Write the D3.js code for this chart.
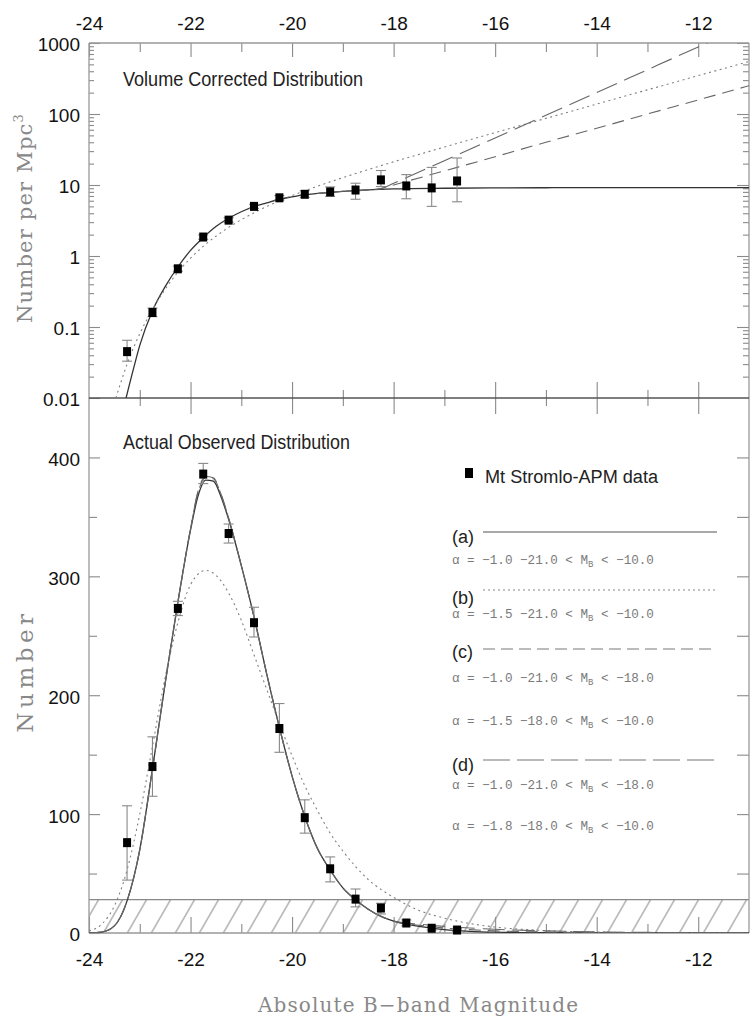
<!DOCTYPE html>
<html><head><meta charset="utf-8">
<script src="https://cdn.jsdelivr.net/npm/d3@7"></script>
<style>body{margin:0;background:#fff}svg{display:block}</style>
</head><body>
<svg id="chart" width="754" height="1017"></svg>
<script>
// ---------- data ----------
const magnitudes   = [-23.25,-22.75,-22.25,-21.75,-21.25,-20.75,-20.25,-19.75,-19.25,-18.75,-18.25,-17.75,-17.25,-16.75];
const densityValues= [0.045,0.16,0.66,1.85,3.2,5.0,6.6,7.4,8.0,8.5,11.8,9.7,9.1,11.4];
const densityLow   = [0.033,0.14,0.61,1.72,3.0,4.7,6.1,6.7,6.9,6.3,9.5,6.4,5.0,5.8];
const densityHigh  = [0.065,0.185,0.72,1.98,3.45,5.35,7.1,8.3,9.4,10.6,16.0,14.0,17.7,24.0];
const countValues  = [76,140,273,386,336,261,172,97,54,28.5,21,8.4,4,2.5];
const countLow     = [44.5,115,267,378,328,249,152,84,43,22,16,6,2.5,1.2];
const countHigh    = [107,165,279,395,344,274,193,112,64,37,25,11,5.5,3.8];

// fitted curves, volume corrected (per Mpc^3)
const fitTopMagA = [-23.27,-23.1,-23,-22.75,-22.5,-22.25,-22,-21.75,-21.5,-21.25,-21,-20.75,-20.5,-20.25,-20,-19.75,-19.5,-19,-18.5,-18,-17,-16,-15,-13,-11];
const fitTopA    = [0.01,0.03,0.055,0.17,0.37,0.7,1.2,1.82,2.6,3.4,4.2,4.95,5.6,6.3,6.8,7.3,7.6,8.15,8.55,8.8,9.0,9.1,9.15,9.2,9.2];
const fitTopMagB = [-23.47,-23.25,-23,-22.75,-22.5,-22.25,-22,-21.75,-21.5,-21.25,-21,-20.75,-20.5,-20.25,-20,-19.5,-19,-18.5,-18,-17,-16,-15,-14,-13,-12,-11];
const fitTopB    = [0.01,0.03,0.08,0.177,0.34,0.59,0.93,1.37,1.9,2.53,3.25,4.06,4.97,5.97,7.07,9.6,12.7,16.5,21.2,34.2,54.6,86.8,138,219,347,549];
const fitTopMagC = [-19.5,-19,-18.5,-18.25,-18,-17,-16,-15,-14,-13,-12,-11];
const fitTopC    = [7.6,8.15,8.55,8.9,10.0,15.8,25,40,63,100,158,250];
const fitTopMagD = [-19.5,-19,-18.5,-18.25,-18,-17,-16,-15,-14,-13,-12,-11.5];
const fitTopD    = [7.6,8.15,8.55,8.9,10.6,22,46,96,200,420,880,1270];

// fitted curves, observed counts
const fitBotMag  = [-24,-23.75,-23.5,-23.25,-23,-22.75,-22.5,-22.25,-22,-21.85,-21.7,-21.55,-21.4,-21.25,-21,-20.75,-20.5,-20.25,-20,-19.75,-19.5,-19.25,-19,-18.75,-18.5,-18.25,-18,-17.5,-17,-16.5,-16,-15,-14,-13,-12,-11];
const fitBotA    = [0,0.8,6,27,70,138,210,278,339,368,381,380,367,348,309,266,218,173,132,98,71,53,38,28,20,14,10,5.5,2.8,1.4,0.7,0.2,0.05,0.02,0.01,0];
const fitBotC    = [0,0.8,6,27,70,138,210,278,340,371,383,382,369,349,309,266,218,173,132,98,71,53,38,28,20,14,10,6.5,4.2,2.8,1.8,0.8,0.3,0.13,0.05,0.02];
const fitBotD    = [0,0.8,6,27,70,138,210,278,340,372,384,383,369,349,309,266,218,173,132,98,71,53,38,28,20,14,10,7.5,5.6,4.2,3.1,1.8,0.95,0.5,0.25,0.12];
const fitBotMagB = [-24,-23.75,-23.5,-23.25,-23,-22.75,-22.5,-22.25,-22,-21.7,-21.5,-21.25,-21,-20.75,-20.5,-20.25,-20,-19.75,-19.5,-19.25,-19,-18.5,-18,-17.5,-17,-16.5,-16,-15,-14,-13,-12,-11];
const fitBotB    = [1.7,7.4,22.8,53,100,157,215,261,293,305,301,286,263,234,205,176,149,124,103,84,69,45,30,19,12.5,8,5,2,0.8,0.3,0.1,0.04];

const hatchLevel = 28;

const xTickMajor = [-24,-22,-20,-18,-16,-14,-12];
const xTickMinor = [-23,-21,-19,-17,-15,-13];
const logTicks   = [0.01,0.1,1,10,100,1000];
const logLabels  = ["0.01","0.1","1","10","100","1000"];
const countTicks = [0,100,200,300,400];
const countMinor = [50,150,250,350];

const legendKeys = ["(a)","(b)","(c)","(d)"];
const legendFormulas = [
  [["−1.0","−21.0","−10.0"]],
  [["−1.5","−21.0","−10.0"]],
  [["−1.0","−21.0","−18.0"],["−1.5","−18.0","−10.0"]],
  [["−1.0","−21.0","−18.0"],["−1.8","−18.0","−10.0"]]
];

// ---------- layout ----------
const L=89, R=749, T=43, MID=398, B=933;
const svg = d3.select("#chart");
const x = d3.scaleLinear().domain([-24,-11]).range([L,R]);
const yTop = d3.scaleLog().domain([0.01,1000]).range([MID,T]);
const yBot = d3.scaleLinear().domain([0,450]).range([B,MID]);
const SANS = "'Liberation Sans', Arial, sans-serif";
const SERIF = "'DejaVu Serif', serif";
const MONO = "'Liberation Mono', monospace";

const defs = svg.append("defs");
defs.append("clipPath").attr("id","clipTop").append("rect").attr("x",L).attr("y",T).attr("width",R-L).attr("height",MID-T);
defs.append("clipPath").attr("id","clipBot").append("rect").attr("x",L).attr("y",MID).attr("width",R-L).attr("height",B-MID);
const pat = defs.append("pattern").attr("id","hatch").attr("patternUnits","userSpaceOnUse")
  .attr("width",24).attr("height",40).attr("patternTransform","translate(6,0) skewX(-30)");
pat.append("line").attr("x1",12).attr("x2",12).attr("y1",-2).attr("y2",42).attr("stroke","#777").attr("stroke-width",1);

// hatch region
svg.append("rect").attr("x",L).attr("y",yBot(hatchLevel)).attr("width",R-L).attr("height",B-yBot(hatchLevel))
  .attr("fill","url(#hatch)");
svg.append("line").attr("x1",L).attr("x2",R).attr("y1",yBot(hatchLevel)).attr("y2",yBot(hatchLevel))
  .attr("stroke","#888").attr("stroke-width",1.2);

function styleAxis(g){
  g.select(".domain").remove();
  g.selectAll(".tick line").attr("stroke","#8a8a8a").attr("stroke-width",1.1);
  g.selectAll(".tick text").attr("font-family",SANS).attr("font-size",19).attr("fill","#111");
}
const noLab = () => "";

// top panel axes
svg.append("g").attr("transform",`translate(${L},0)`)
  .call(d3.axisLeft(yTop).tickValues(logTicks).tickFormat((d,i)=>logLabels[i]).tickSizeInner(-11).tickSizeOuter(0).tickPadding(9))
  .call(styleAxis).call(g=>g.selectAll(".tick text").attr("dy","0.42em"));
const minorLog = logTicks.slice(0,-1).flatMap(d=>d3.range(2,10).map(k=>k*d));
svg.append("g").attr("transform",`translate(${L},0)`)
  .call(d3.axisLeft(yTop).tickValues(minorLog).tickFormat(noLab).tickSizeInner(-5).tickSizeOuter(0)).call(styleAxis);
svg.append("g").attr("transform",`translate(${R},0)`)
  .call(d3.axisRight(yTop).tickValues(logTicks.slice(1)).tickFormat(noLab).tickSizeInner(-12).tickSizeOuter(0)).call(styleAxis);
svg.append("g").attr("transform",`translate(${R},0)`)
  .call(d3.axisRight(yTop).tickValues(minorLog).tickFormat(noLab).tickSizeInner(-6).tickSizeOuter(0)).call(styleAxis);
svg.append("g").attr("transform",`translate(0,${T})`)
  .call(d3.axisTop(x).tickValues(xTickMajor).tickFormat(d=>String(d)).tickSizeInner(-14).tickSizeOuter(0).tickPadding(13)).call(styleAxis);
svg.append("g").attr("transform",`translate(0,${T})`)
  .call(d3.axisTop(x).tickValues(xTickMinor).tickFormat(noLab).tickSizeInner(-9).tickSizeOuter(0)).call(styleAxis);
// middle line ticks (both sides)
[16,-16].forEach(s=>{
  svg.append("g").attr("transform",`translate(0,${MID})`)
    .call(d3.axisBottom(x).tickValues(xTickMajor.slice(1)).tickFormat(noLab).tickSizeInner(s).tickSizeOuter(0)).call(styleAxis);
});
[8,-8].forEach(s=>{
  svg.append("g").attr("transform",`translate(0,${MID})`)
    .call(d3.axisBottom(x).tickValues(xTickMinor).tickFormat(noLab).tickSizeInner(s).tickSizeOuter(0)).call(styleAxis);
});
// bottom panel axes
svg.append("g").attr("transform",`translate(${L},0)`)
  .call(d3.axisLeft(yBot).tickValues(countTicks).tickFormat(d=>String(d)).tickSizeInner(-11).tickSizeOuter(0).tickPadding(9))
  .call(styleAxis).call(g=>g.selectAll(".tick text").attr("dy","0.42em"));
svg.append("g").attr("transform",`translate(${L},0)`)
  .call(d3.axisLeft(yBot).tickValues(countMinor).tickFormat(noLab).tickSizeInner(-8).tickSizeOuter(0)).call(styleAxis);
svg.append("g").attr("transform",`translate(${R},0)`)
  .call(d3.axisRight(yBot).tickValues(countTicks.slice(1).concat(countMinor)).tickFormat(noLab).tickSizeInner(-12).tickSizeOuter(0)).call(styleAxis);
svg.append("g").attr("transform",`translate(0,${B})`)
  .call(d3.axisBottom(x).tickValues(xTickMajor).tickFormat(d=>String(d)).tickSizeInner(-16).tickSizeOuter(0).tickPadding(20)).call(styleAxis);
svg.append("g").attr("transform",`translate(0,${B})`)
  .call(d3.axisBottom(x).tickValues(xTickMinor).tickFormat(noLab).tickSizeInner(-9).tickSizeOuter(0)).call(styleAxis);

// frame
const frame = svg.append("g").attr("fill","none");
frame.append("line").attr("x1",L).attr("x2",L).attr("y1",T).attr("y2",B).attr("stroke","#999").attr("stroke-width",1.3);
frame.append("line").attr("x1",R).attr("x2",R).attr("y1",T).attr("y2",B).attr("stroke","#999").attr("stroke-width",1.3);
frame.append("line").attr("x1",L).attr("x2",R).attr("y1",T).attr("y2",T).attr("stroke","#999").attr("stroke-width",1.3);
frame.append("line").attr("x1",L).attr("x2",R).attr("y1",B).attr("y2",B).attr("stroke","#999").attr("stroke-width",1.3);
frame.append("line").attr("x1",L).attr("x2",R).attr("y1",MID).attr("y2",MID).attr("stroke","#555").attr("stroke-width",1.4);

// curves
const styles = {
  a:{stroke:"#333",w:1.3,dash:null},
  b:{stroke:"#808080",w:1.1,dash:"2,3.5"},
  c:{stroke:"#666",w:1.1,dash:"12,7"},
  d:{stroke:"#666",w:1.1,dash:"22,8"}
};
function drawCurve(clip, yS, mags, vals, st){
  const line = d3.line().x(d=>x(d[0])).y(d=>yS(d[1])).curve(d3.curveMonotoneX);
  svg.append("path").attr("clip-path",`url(#${clip})`).datum(d3.zip(mags,vals))
    .attr("d",line).attr("fill","none").attr("stroke",st.stroke).attr("stroke-width",st.w)
    .attr("stroke-dasharray",st.dash);
}
drawCurve("clipTop",yTop,fitTopMagA,fitTopA,styles.a);
drawCurve("clipTop",yTop,fitTopMagB,fitTopB,styles.b);
drawCurve("clipTop",yTop,fitTopMagC,fitTopC,styles.c);
drawCurve("clipTop",yTop,fitTopMagD,fitTopD,styles.d);
drawCurve("clipBot",yBot,fitBotMag,fitBotA,styles.a);
drawCurve("clipBot",yBot,fitBotMagB,fitBotB,styles.b);
drawCurve("clipBot",yBot,fitBotMag,fitBotC,styles.c);
drawCurve("clipBot",yBot,fitBotMag,fitBotD,styles.d);

// data points with error bars
function drawPoints(yS, vals, lo, hi){
  const g = svg.append("g");
  magnitudes.forEach((m,i)=>{
    const cx = x(m);
    g.append("line").attr("x1",cx).attr("x2",cx).attr("y1",yS(lo[i])).attr("y2",yS(hi[i])).attr("stroke","#888").attr("stroke-width",1.1);
    [lo[i],hi[i]].forEach(v=>g.append("line").attr("x1",cx-5).attr("x2",cx+5).attr("y1",yS(v)).attr("y2",yS(v)).attr("stroke","#888").attr("stroke-width",1.1));
    g.append("rect").attr("x",cx-4).attr("y",yS(vals[i])-4.5).attr("width",8).attr("height",9).attr("fill","#000");
  });
}
drawPoints(yTop,densityValues,densityLow,densityHigh);
drawPoints(yBot,countValues,countLow,countHigh);

// panel titles
svg.append("text").attr("x",123).attr("y",86).attr("font-family",SANS).attr("font-size",21).attr("fill","#222")
  .attr("textLength",240).attr("lengthAdjust","spacingAndGlyphs").text("Volume Corrected Distribution");
svg.append("text").attr("x",123).attr("y",449).attr("font-family",SANS).attr("font-size",21).attr("fill","#222")
  .attr("textLength",227).attr("lengthAdjust","spacingAndGlyphs").text("Actual Observed Distribution");

// legend
svg.append("rect").attr("x",465).attr("y",468).attr("width",8).attr("height",10).attr("fill","#000");
svg.append("text").attr("x",485).attr("y",483).attr("font-family",SANS).attr("font-size",18).attr("fill","#222")
  .attr("textLength",173).attr("lengthAdjust","spacingAndGlyphs").text("Mt Stromlo-APM data");
const legendY = [{lab:543,line:532,f:[564]},{lab:604,line:590,f:[618]},{lab:658,line:649,f:[682,725]},{lab:771,line:760,f:[789,830]}];
const legendLine = [
  {stroke:"#555",w:1.2,dash:null},
  {stroke:"#888",w:1.1,dash:"2,3"},
  {stroke:"#bbb",w:2,dash:"12,6"},
  {stroke:"#777",w:1.2,dash:"27,7"}
];
legendKeys.forEach((k,i)=>{
  const ly = legendY[i];
  svg.append("text").attr("x",452).attr("y",ly.lab).attr("font-family",SANS).attr("font-size",18).attr("fill","#222").text(k);
  svg.append("line").attr("x1",483).attr("x2",717).attr("y1",ly.line).attr("y2",ly.line)
    .attr("stroke",legendLine[i].stroke).attr("stroke-width",legendLine[i].w).attr("stroke-dasharray",legendLine[i].dash);
  legendFormulas[i].forEach((f,j)=>{
    const t = svg.append("text").attr("x",452).attr("y",ly.f[j]).attr("font-family",MONO).attr("font-size",12.6).attr("fill","#7a7a7a");
    t.append("tspan").text(`α = ${f[0]} ${f[1]} < M`);
    t.append("tspan").attr("dy",3).attr("font-size",9).text("B");
    t.append("tspan").attr("dy",-3).text(` < ${f[2]}`);
  });
});

// axis titles
const yt = svg.append("text").attr("transform","translate(32,218) rotate(-90)").attr("text-anchor","middle")
  .attr("font-family",SERIF).attr("font-size",21).attr("letter-spacing",1.2).attr("fill","#888");
yt.append("tspan").text("Number per Mpc");
yt.append("tspan").attr("dy",-9).attr("font-size",13).text("3");
svg.append("text").attr("transform","translate(33,671) rotate(-90)").attr("text-anchor","middle")
  .attr("font-family",SERIF).attr("font-size",23).attr("letter-spacing",4.5).attr("fill","#888").text("Number");
svg.append("text").attr("x",418).attr("y",1012).attr("text-anchor","middle")
  .attr("font-family",SERIF).attr("font-size",20).attr("fill","#888")
  .attr("textLength",320).attr("lengthAdjust","spacing").text("Absolute B−band Magnitude");
</script>
</body></html>
